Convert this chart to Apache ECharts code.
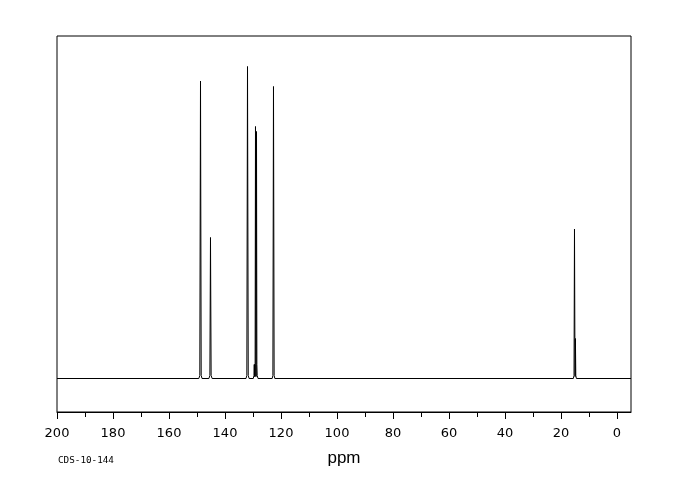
<!DOCTYPE html>
<html>
<head>
<meta charset="utf-8">
<script src="https://cdn.jsdelivr.net/npm/echarts@6/dist/echarts.min.js"></script>
<style>html,body{margin:0;padding:0;background:#fff}#c{width:680px;height:500px}</style>
</head>
<body>
<div id="c"></div>
<script>
// x-axis tick labels (ppm) and minor ticks
var majorTicks = [200, 180, 160, 140, 120, 100, 80, 60, 40, 20, 0];
var minorTicks = [190, 170, 150, 130, 110, 90, 70, 50, 30, 10];
var xLabel = 'ppm';
var sampleId = 'CDS-10-144';
// spectrum trace: [ppm, intensity]
var spectrum = [
  [200, 0],
  [149.35, 0], [149.0, 3], [148.75, 297.5], [148.5, 3], [148.2, 0],
  [145.75, 0], [145.4, 3], [145.18, 141], [144.95, 3], [144.6, 0],
  [132.5, 0], [132.2, 3], [131.96, 312], [131.7, 3], [131.4, 0],
  [129.9, 0], [129.65, 3], [129.55, 14], [129.45, 2], [129.35, 14], [129.25, 2],
  [129.11, 252], [128.98, 14], [128.88, 2], [128.75, 247], [128.62, 14], [128.5, 3], [128.2, 0],
  [123.15, 0], [122.9, 3], [122.68, 292], [122.45, 3], [122.2, 0],
  [15.6, 0], [15.35, 3], [15.18, 149.5], [15.05, 40], [14.95, 2], [14.85, 40], [14.72, 3], [14.5, 0],
  [-5, 0]
];

var chart = echarts.init(document.getElementById('c'), null, {renderer: 'canvas'});
var axisCommon = {
  type: 'value', min: -5, max: 200, inverse: true, position: 'bottom',
  splitLine: {show: false}
};
chart.setOption({
  animation: false,
  backgroundColor: '#fff',
  grid: {left: 57, right: 49, top: 36, bottom: 88, show: true, borderColor: '#000', borderWidth: 1, backgroundColor: 'transparent'},
  xAxis: [
    Object.assign({}, axisCommon, {
      name: xLabel, nameLocation: 'middle', nameGap: 38,
      nameTextStyle: {fontFamily: 'Liberation Sans', fontSize: 17, color: '#000'},
      axisLine: {show: true, onZero: false, lineStyle: {color: '#000', width: 1}},
      axisTick: {show: true, length: 7, lineStyle: {color: '#000', width: 1}, customValues: majorTicks},
      axisLabel: {show: true, margin: 15, fontFamily: 'DejaVu Sans', fontSize: 13, color: '#000', customValues: majorTicks}
    }),
    Object.assign({}, axisCommon, {
      axisLine: {show: false, onZero: false},
      axisTick: {show: true, length: 5, lineStyle: {color: '#000', width: 1}, customValues: minorTicks},
      axisLabel: {show: false}
    })
  ],
  yAxis: {type: 'value', min: -33.5, max: 342.5, show: false, splitLine: {show: false}},
  graphic: [{
    type: 'text', left: 58, top: 456,
    style: {text: sampleId, fontFamily: 'DejaVu Sans Mono', fontSize: 9.3, fill: '#000'}
  }],
  series: [{
    type: 'line', xAxisIndex: 0, data: spectrum, showSymbol: false, symbol: 'none',
    lineStyle: {color: '#000', width: 1}, silent: true
  }]
});
</script>
</body>
</html>
